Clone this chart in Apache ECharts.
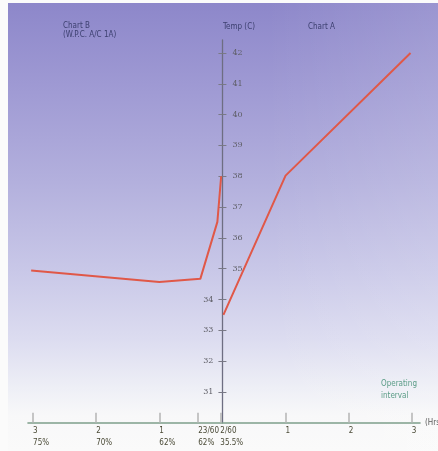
<!DOCTYPE html>
<html>
<head>
<meta charset="utf-8">
<script src="https://cdn.jsdelivr.net/npm/echarts@6/dist/echarts.min.js"></script>
<style>
html,body{margin:0;padding:0;background:#fbfbfb;}
#bg{position:absolute;left:8px;top:3px;width:430px;height:448px;
background:linear-gradient(to bottom,#8d87ca 0%,#a09bd4 20%,#b3b0dd 40%,#c9c8e8 60%,#dcdcf0 75%,#eeeff6 86%,#f8f8f9 92%,#fafafa 100%);}
#bg2{position:absolute;left:8px;top:3px;width:430px;height:448px;
background:linear-gradient(to right,rgba(255,255,255,0) 0%,rgba(255,255,255,0) 60%,rgba(255,255,255,0.12) 100%);}
#chart{position:absolute;left:0;top:0;width:438px;height:451px;}
</style>
</head>
<body>
<div id="bg"></div><div id="bg2"></div>
<div id="chart"></div>
<script>
// Chart B (left): hours before changeover, temperature (C)
const chartBHours = [3.03, 1, 0.35, 0.08, 0.02];
const chartBTemp  = [34.94, 34.57, 34.67, 36.52, 38.0];
// Chart A (right): hours of operating interval, temperature (C)
const chartAHours = [0.016, 1, 2.98];
const chartATemp  = [33.5, 38.02, 42.0];
// x tick positions (negative = Chart B side) and labels
const xTickValues = [-3, -2, -1, -23/60, -2/60, 1, 2, 3];
const xTickLabels = ['3\n75%', '2\n70%', '1\n62%', '23/60\n62%', '2/60\n35.5%', '1', '2', '3'];
// y ticks
const yTickValues = [31, 32, 33, 34, 35, 36, 37, 38, 39, 40, 41, 42];
const yLabelsLeft = [31, 32, 33, 34];
const yLabelsRight = [35, 36, 37, 38, 39, 40, 41, 42];

const FONT = '"Liberation Sans Narrow","DejaVu Sans Condensed","Open Sans",sans-serif';
const SERIF = '"DejaVu Serif","Liberation Serif",serif';
const chart = echarts.init(document.getElementById('chart'), null, {renderer: 'canvas'});

const X_MIN = -3.08, X_MAX = 3.13, G_LEFT = 28, G_RIGHT = 18, W = 438;
// pixel offset so the temperature axis sits at hour 0
const yOffset = -((0 - X_MIN) / (X_MAX - X_MIN)) * (W - G_LEFT - G_RIGHT);

const seriesB = chartBHours.map((h, i) => [-h, chartBTemp[i]]);
const seriesA = chartAHours.map((h, i) => [h, chartATemp[i]]);

const lineStyle = {color: '#e05848', width: 2};

chart.setOption({
  animation: false,
  backgroundColor: 'transparent',
  grid: {left: G_LEFT, right: G_RIGHT, top: 40, bottom: 28.2, containLabel: false, outerBoundsMode: 'none'},
  xAxis: {
    type: 'value', min: X_MIN, max: X_MAX,
    splitLine: {show: false},
    axisLine: {onZero: false, lineStyle: {color: '#7e9e8a', width: 1.6}},
    axisTick: {show: true, inside: true, length: 10, customValues: xTickValues,
      lineStyle: {color: '#b4b4b4', width: 1.5}},
    axisLabel: {customValues: xTickValues, align: 'left', margin: 2,
      fontFamily: FONT, fontSize: 8, color: '#4a4a36', lineHeight: 12,
      formatter: (v) => {
        let best = 0, d = 1e9;
        xTickValues.forEach((t, k) => { if (Math.abs(t - v) < d) { d = Math.abs(t - v); best = k; } });
        return xTickLabels[best];
      }},
    name: '(Hrs)', nameLocation: 'end', nameGap: 5,
    nameTextStyle: {fontFamily: FONT, fontSize: 8, color: '#5a5a5a', verticalAlign: 'middle'}
  },
  yAxis: [{
    type: 'value', min: 30, max: 42.42, position: 'left', offset: yOffset,
    splitLine: {show: false},
    axisLine: {show: true, onZero: false, lineStyle: {color: '#6e6e82', width: 1.3}},
    axisTick: {show: true, inside: false, length: 4, customValues: yTickValues,
      lineStyle: {color: '#7a7a86', width: 1}},
    axisLabel: {customValues: yLabelsLeft, margin: 9, fontFamily: SERIF,
      fontSize: 8, color: '#5e5e66'}
  }, {
    type: 'value', min: 30, max: 42.42, position: 'left', offset: yOffset,
    splitLine: {show: false},
    axisLine: {show: false, onZero: false},
    axisTick: {show: true, inside: true, length: 4, customValues: yTickValues,
      lineStyle: {color: '#7a7a86', width: 1}},
    axisLabel: {customValues: yLabelsRight, inside: true, margin: 10,
      fontFamily: SERIF, fontSize: 8, color: '#5e5e66'}
  }],
  series: [
    {type: 'line', data: seriesB, symbol: 'none', lineStyle: lineStyle, yAxisIndex: 0},
    {type: 'line', data: seriesA, symbol: 'none', lineStyle: lineStyle, yAxisIndex: 0}
  ],
  graphic: [
    {type: 'text', left: 63, top: 21, style: {text: 'Chart B\n(W.P.C. A/C 1A)', fontFamily: FONT,
      fontSize: 8, lineHeight: 9, fill: '#3d4070'}},
    {type: 'text', left: 223, top: 23, style: {text: 'Temp (C)', fontFamily: FONT,
      fontSize: 8, fill: '#3d4070'}},
    {type: 'text', left: 308, top: 23, style: {text: 'Chart A', fontFamily: FONT,
      fontSize: 8, fill: '#3d4070'}},
    {type: 'text', left: 381, top: 378, style: {text: 'Operating\ninterval', fontFamily: FONT,
      fontSize: 8, lineHeight: 12, fill: '#5a9c86'}}
  ]
});
</script>
</body>
</html>
